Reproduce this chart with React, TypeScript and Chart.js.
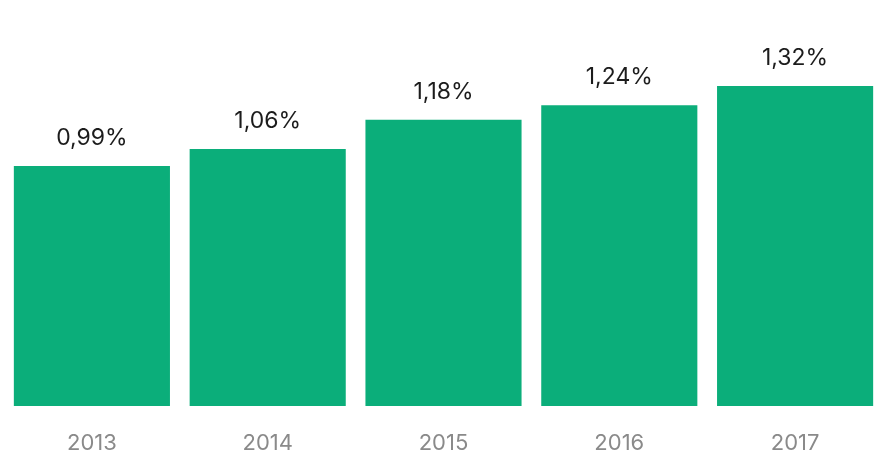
import React, { useEffect, useRef } from "react";
import { Chart, registerables } from "chart.js";

Chart.register(...registerables);

const categories = ["2013", "2014", "2015", "2016", "2017"];
const values = [0.99, 1.06, 1.18, 1.24, 1.32];
const valueLabels = ["0,99%", "1,06%", "1,18%", "1,24%", "1,32%"];

const FONT = "Inter, 'Noto Sans', sans-serif";

const valueLabelPlugin = {
  id: "valueLabels",
  afterDatasetsDraw(chart: any) {
    const ctx = chart.ctx;
    const meta = chart.getDatasetMeta(0);
    ctx.save();
    ctx.font = `400 23px ${FONT}`;
    ctx.fillStyle = "#1c1c1c";
    ctx.textAlign = "center";
    ctx.textBaseline = "alphabetic";
    meta.data.forEach((bar: any, i: number) => {
      ctx.fillText(valueLabels[i], bar.x, bar.y - 21);
    });
    ctx.restore();
  },
};

export default function App() {
  const ref = useRef<HTMLCanvasElement>(null);
  useEffect(() => {
    const chart = new Chart(ref.current!, {
      type: "bar",
      data: {
        labels: categories,
        datasets: [
          {
            data: values,
            backgroundColor: "#0bae7a",
            borderWidth: 0,
            barPercentage: 0.888,
            categoryPercentage: 1,
          },
        ],
      },
      options: {
        animation: false,
        responsive: false,
        layout: { padding: { left: 4, right: 1, top: 18, bottom: 0 } },
        plugins: { legend: { display: false }, tooltip: { enabled: false } },
        scales: {
          x: {
            grid: { display: false, drawTicks: false },
            border: { display: false },
            ticks: {
              color: "#8a8a8a",
              font: { family: FONT, size: 22 },
              padding: 24,
              maxRotation: 0,
            },
            afterFit(scale: any) {
              scale.height = 51;
            },
          },
          y: {
            display: false,
            min: 0,
            max: 1.6,
          },
        },
      },
      plugins: [valueLabelPlugin],
    });
    return () => chart.destroy();
  }, []);
  return (
    <div style={{ position: "fixed", left: 0, top: 0, width: 884, height: 457, background: "#fff" }}>
      <canvas ref={ref} width={884} height={457} style={{ width: 884, height: 457 }} />
    </div>
  );
}
